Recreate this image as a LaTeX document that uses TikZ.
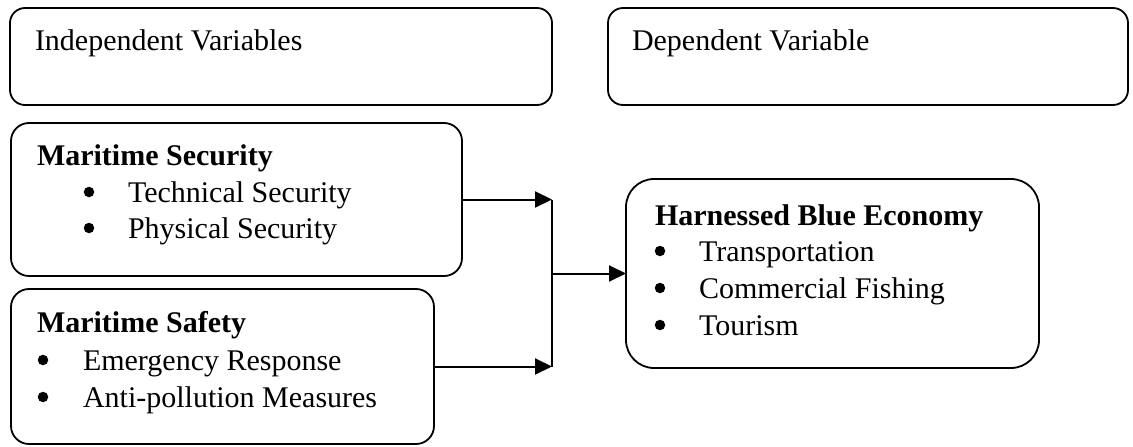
\documentclass[tikz,border=0pt]{standalone}
\usepackage{fontspec}
\setmainfont{Liberation Serif}
\usetikzlibrary{arrows.meta}
\begin{document}
\begin{tikzpicture}[x=1pt,y=-1pt,
  box/.style={draw=black, line width=1.8pt, rounded corners=18pt, rectangle, inner sep=0pt, outer sep=0pt},
  txt/.style={anchor=base west, inner sep=0pt, outer sep=0pt, font=\fontsize{30}{36}\selectfont},
  hd/.style={txt, font=\fontsize{30}{36}\selectfont\bfseries},
  bul/.style={circle, fill=black, inner sep=0pt, outer sep=0pt, minimum size=10.5pt},
  conn/.style={line width=2pt, draw=black},
  arr/.style={conn, -{Triangle[length=17pt,width=16pt]}}]
\useasboundingbox (0,0) rectangle (1133,447);
% boxes
\node[box, minimum width=542pt, minimum height=97pt, rounded corners=15pt] (iv) at (281,56.5) {};
\node[box, minimum width=520pt, minimum height=97pt, rounded corners=15pt] (dv) at (868,56.5) {};
\node[box, minimum width=451pt, minimum height=153pt] (ms) at (236.5,199.5) {};
\node[box, minimum width=423pt, minimum height=155pt] (sf) at (222.5,366.5) {};
\node[box, minimum width=413pt, minimum height=189pt, rounded corners=28pt] (hbe) at (832.5,273.5) {};
% texts
\node[txt] (ivt) at (35,50) {Independent Variables};
\node[txt] (dvt) at (632,50) {Dependent Variable};
\node[hd] (mst) at (37,165) {Maritime Security};
\node[bul] (msb1) at (89,192) {};
\node[txt] (ms1) at (128,202) {Technical Security};
\node[bul] (msb2) at (89,228) {};
\node[txt] (ms2) at (128,238) {Physical Security};
\node[hd] (sft) at (37,332) {Maritime Safety};
\node[bul] (sfb1) at (43,360) {};
\node[txt] (sf1) at (83,370) {Emergency Response};
\node[bul] (sfb2) at (43,397) {};
\node[txt] (sf2) at (83,407) {Anti-pollution Measures};
\node[hd] (hbet) at (655,225) {Harnessed Blue Economy};
\node[bul] (hb1) at (660,251) {};
\node[txt] (h1) at (699,261) {Transportation};
\node[bul] (hb2) at (660,288) {};
\node[txt] (h2) at (699,298) {Commercial Fishing};
\node[bul] (hb3) at (660,325) {};
\node[txt] (h3) at (699,335) {Tourism};
% connectors
\coordinate (jt) at (552,199.5);
\coordinate (jb) at (552,366.5);
\coordinate (jm) at (552,273.5);
\draw[arr] (ms.east) -- (jt);
\draw[arr] (sf.east) -- (jb);
\draw[conn] (jt) -- (jb);
\draw[arr] (jm) -- (hbe.west);
\end{tikzpicture}
\end{document}
